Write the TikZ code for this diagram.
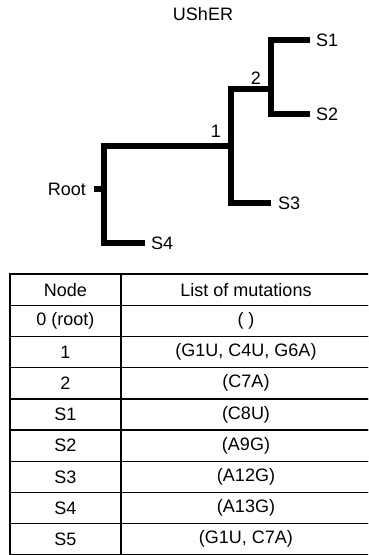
\documentclass[tikz,border=0pt]{standalone}
\usepackage{fontspec}
\setmainfont{Liberation Sans}
\usepackage{tikz}
\usetikzlibrary{
  positioning,
  calc
}

\begin{document}
\begin{tikzpicture}[
  x=1pt, y=-1pt,
  font=\fontsize{18}{21}\selectfont,
  branch/.style={
    draw=black, line width=6.5pt,
    line join=miter, line cap=butt
  },
  tiplabel/.style={inner sep=0pt, anchor=west},
  cell/.style={
    draw=black, line width=1.4pt,
    minimum height=31.2pt, inner sep=0pt, outer sep=0pt
  },
  namecell/.style={cell, minimum width=111pt},
  mutcell/.style={cell, minimum width=250pt}
]
\path[use as bounding box, clip] (0,0) rectangle (368,555);

\node[inner sep=0pt] (title) at (203,14) {UShER};

% tree
\coordinate (root) at (104,189);
\coordinate (stub) at (94,189);
\coordinate (n1) at (231,146);
\coordinate (n2) at (271,89);
\coordinate (t1) at (310,40);
\coordinate (t2) at (310,114);
\coordinate (t3) at (271,203);
\coordinate (t4) at (145,243);

\draw[branch] (stub) -- (root);
\draw[branch] (t4) -| (root |- n1) -- (n1);
\draw[branch] (t3) -| (n1 |- n2) -- (n2);
\draw[branch] (t1) -| (n2) |- (t2);

\node[inner sep=0pt, left=8pt of stub] (rootlbl) {Root};
\node[tiplabel, right=6pt of t1] (s1) {S1};
\node[tiplabel, right=6pt of t2] (s2) {S2};
\node[tiplabel, right=7pt of t3] (s3) {S3};
\node[tiplabel, right=6pt of t4] (s4) {S4};
\node[inner sep=0pt] (lbl1) at (216,131) {1};
\node[inner sep=0pt] (lbl2) at (256,78) {2};

% table
\node[namecell] (c0) at (65.5,289.6) {Node};
\node[mutcell, right=0pt of c0] (m0) {List of mutations};
\node[namecell, below=0pt of c0] (c1) {0 (root)};
\node[mutcell, right=0pt of c1] (m1) {( )};
\node[namecell, below=0pt of c1] (c2) {1};
\node[mutcell, right=0pt of c2] (m2) {(G1U, C4U, G6A)};
\node[namecell, below=0pt of c2] (c3) {2};
\node[mutcell, right=0pt of c3] (m3) {(C7A)};
\node[namecell, below=0pt of c3] (c4) {S1};
\node[mutcell, right=0pt of c4] (m4) {(C8U)};
\node[namecell, below=0pt of c4] (c5) {S2};
\node[mutcell, right=0pt of c5] (m5) {(A9G)};
\node[namecell, below=0pt of c5] (c6) {S3};
\node[mutcell, right=0pt of c6] (m6) {(A12G)};
\node[namecell, below=0pt of c6] (c7) {S4};
\node[mutcell, right=0pt of c7] (m7) {(A13G)};
\node[namecell, below=0pt of c7] (c8) {S5};
\node[mutcell, right=0pt of c8] (m8) {(G1U, C7A)};
\end{tikzpicture}
\end{document}
